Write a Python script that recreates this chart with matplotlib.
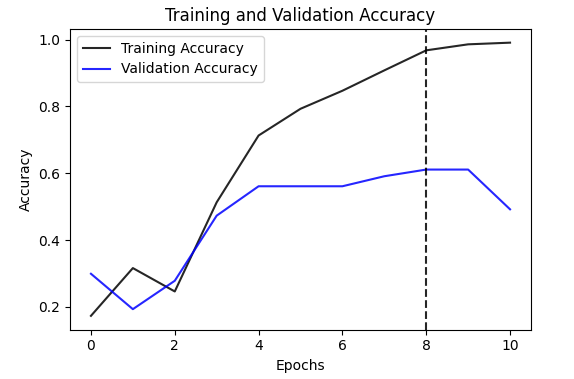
import matplotlib
matplotlib.use("Agg")
import matplotlib.pyplot as plt
from matplotlib.ticker import MultipleLocator

epochs = [0, 1, 2, 3, 4, 5, 6, 7, 8, 9, 10]
train_acc = [0.173, 0.316, 0.246, 0.513, 0.713, 0.793, 0.847, 0.908, 0.968, 0.986, 0.991]
val_acc = [0.299, 0.193, 0.278, 0.473, 0.561, 0.561, 0.561, 0.591, 0.611, 0.611, 0.492]
best_epoch = 8

fig = plt.figure(figsize=(5.74, 3.79), dpi=100)
ax = fig.add_axes([70 / 574, 1 - 329.5 / 379, (531 - 70) / 574, (329.5 - 29) / 379])

ax.plot(epochs, train_acc, color='k', alpha=0.85, label='Training Accuracy')
ax.plot(epochs, val_acc, color='b', alpha=0.85, label='Validation Accuracy')
ax.axvline(best_epoch, color='k', linestyle='--', alpha=0.85)

ax.set_title('Training and Validation Accuracy')
ax.set_xlabel('Epochs')
ax.set_ylabel('Accuracy')
ax.yaxis.set_major_locator(MultipleLocator(0.2))
ax.legend(loc='upper left')

fig.savefig('out.png', dpi=100)
